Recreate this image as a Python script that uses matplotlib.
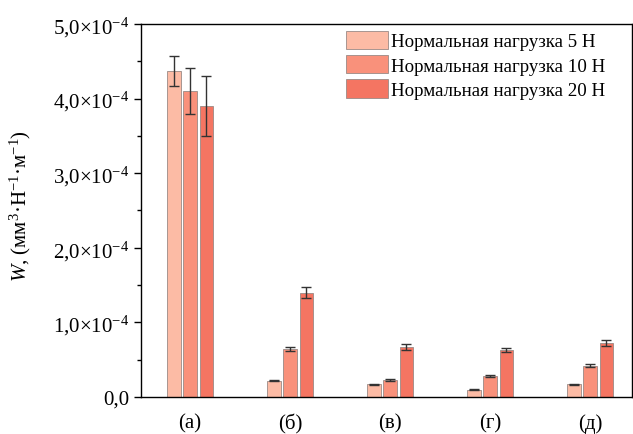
import matplotlib
matplotlib.use("Agg")
import matplotlib.pyplot as plt
import numpy as np
from matplotlib.ticker import MultipleLocator, FuncFormatter

plt.rcParams['font.family'] = ['Liberation Serif', 'DejaVu Serif']
plt.rcParams['mathtext.fontset'] = 'custom'
plt.rcParams['mathtext.rm'] = 'Liberation Serif'
plt.rcParams['mathtext.it'] = 'Liberation Serif:italic'

categories = ['(а)', '(б)', '(в)', '(г)', '(д)']
series_labels = ['Нормальная нагрузка 5 Н', 'Нормальная нагрузка 10 Н', 'Нормальная нагрузка 20 Н']
w_5 = [4.37e-4, 0.22e-4, 0.17e-4, 0.10e-4, 0.17e-4]
w_10 = [4.10e-4, 0.64e-4, 0.23e-4, 0.28e-4, 0.42e-4]
w_20 = [3.90e-4, 1.40e-4, 0.67e-4, 0.63e-4, 0.72e-4]
err_5 = [0.20e-4, 0.006e-4, 0.008e-4, 0.005e-4, 0.01e-4]
err_10 = [0.31e-4, 0.03e-4, 0.012e-4, 0.015e-4, 0.02e-4]
err_20 = [0.40e-4, 0.075e-4, 0.035e-4, 0.03e-4, 0.04e-4]

colors = ['#FCBBA5', '#F9917B', '#F47562']

fig = plt.figure(figsize=(6.33, 4.35), dpi=100)
ax = fig.add_axes([0.2227, 0.0851, 0.7757, 0.8574])

x = np.arange(1, len(categories) + 1)
offsets = [-0.16, 0.0, 0.165]
width = 0.135
for vals, errs, off, c, lab in zip([w_5, w_10, w_20], [err_5, err_10, err_20], offsets, colors, series_labels):
    ax.bar(x + off, vals, width, color=c, edgecolor='#9a8a86', linewidth=0.6, label=lab,
           yerr=errs, error_kw=dict(ecolor='#333333', elinewidth=1.0, capsize=3.5, capthick=1.0))

ax.set_xlim(0.51, 5.42)
ax.set_ylim(0, 5e-4)
ax.set_xticks(x)
ax.set_xticklabels(categories, fontsize=15)
ax.tick_params(axis='x', length=0, pad=12)
ax.yaxis.set_major_locator(MultipleLocator(1e-4))
ax.yaxis.set_minor_locator(MultipleLocator(0.5e-4))

def fmt(v, pos):
    m = v / 1e-4
    if abs(m) < 1e-9:
        return '0,0'
    return '%s×10$^{-4}$' % ('%.1f' % m).replace('.', ',')

ax.yaxis.set_major_formatter(FuncFormatter(fmt))
ax.tick_params(axis='y', which='major', direction='out', length=5, width=1, labelsize=15)
ax.tick_params(axis='y', which='minor', direction='out', length=3, width=1)
for s in ax.spines.values():
    s.set_linewidth(1.0)

ax.set_ylabel('$\\it{W}$, (мм$^3$·Н$^{-1}$·м$^{-1}$)', fontsize=15)
ax.yaxis.set_label_coords(-0.22, 0.515)

leg = fig.legend(*ax.get_legend_handles_labels(), loc='upper left',
                 bbox_to_anchor=(346 / 633, 1 - 32 / 435), bbox_transform=fig.transFigure,
                 frameon=False, fontsize=13.6, borderpad=0, borderaxespad=0,
                 handlelength=2.2, handleheight=1.1, handletextpad=0.2, labelspacing=0.25)

fig.savefig('out.png', dpi=100)
